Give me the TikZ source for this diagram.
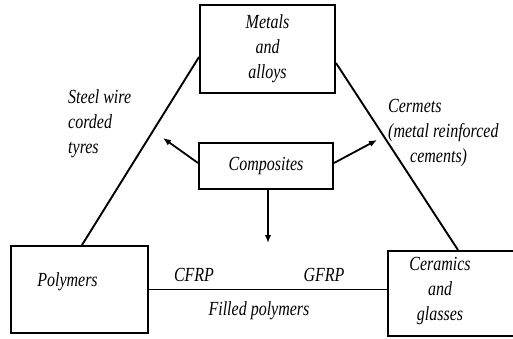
\documentclass[tikz,border=0pt]{standalone}
\usepackage{fontspec}
\setmainfont{Liberation Serif}[FakeStretch=0.8]
\usetikzlibrary{arrows.meta}

\tikzset{
  box/.style={draw, line width=2pt, inner sep=0pt, align=center},
  lbl/.style={font=\fontsize{20}{25}\selectfont\itshape, inner sep=0pt},
  link/.style={line width=1.9pt},
  arr/.style={line width=1.8pt, -{Latex[length=8pt,width=6.5pt]}}
}

\begin{document}
\begin{tikzpicture}[x=1pt, y=1pt]
\useasboundingbox (0,0) rectangle (513,338);
\clip (0,0) rectangle (513,338);

% the four boxes
\node[box, lbl, minimum width=135pt, minimum height=88pt] (metals) at (267.5,289) {Metals\\and\\alloys};
\node[box, lbl, minimum width=134pt, minimum height=46pt] (composites) at (266,172) {Composites};
\node[box, minimum width=137pt, minimum height=87pt] (polymers) at (79.5,48.5) {};
\node[box, minimum width=130pt, minimum height=85pt] (ceramics) at (453,44.5) {};

\node[lbl] (polymerstext) at (67.5,56) {Polymers};
\node[lbl, align=center] (ceramicstext) at (440,47) {Ceramics\\and\\glasses};

% sides of the triangle
\draw[link] ([yshift=-8pt]metals.west) -- ([xshift=2.5pt]polymers.north);
\draw[link] ([yshift=-14pt]metals.east) -- ([xshift=5pt]ceramics.north);
\draw[link] (polymers.east) -- (polymers.east -| ceramics.west);

% arrows out of composites
\coordinate (steeltip) at (163,200);
\coordinate (cermettip) at (377,198);
\coordinate (filledtip) at (268,95);
\draw[arr] ([yshift=3pt]composites.west) -- (steeltip);
\draw[arr] ([yshift=3pt]composites.east) -- (cermettip);
\draw[arr] ([xshift=2pt]composites.south) -- (filledtip);

% labels
\node[lbl, align=left, anchor=west] (steel) at (68,214) {Steel wire\\corded\\tyres};
\node[lbl, align=left, anchor=west] (cermets) at (388,205) {Cermets\\(metal reinforced\\\hspace*{22pt}cements)};
\node[lbl] (cfrp) at (194,63) {CFRP};
\node[lbl] (gfrp) at (324,63) {GFRP};
\node[lbl] (filled) at (259,27) {Filled polymers};

\end{tikzpicture}
\end{document}
